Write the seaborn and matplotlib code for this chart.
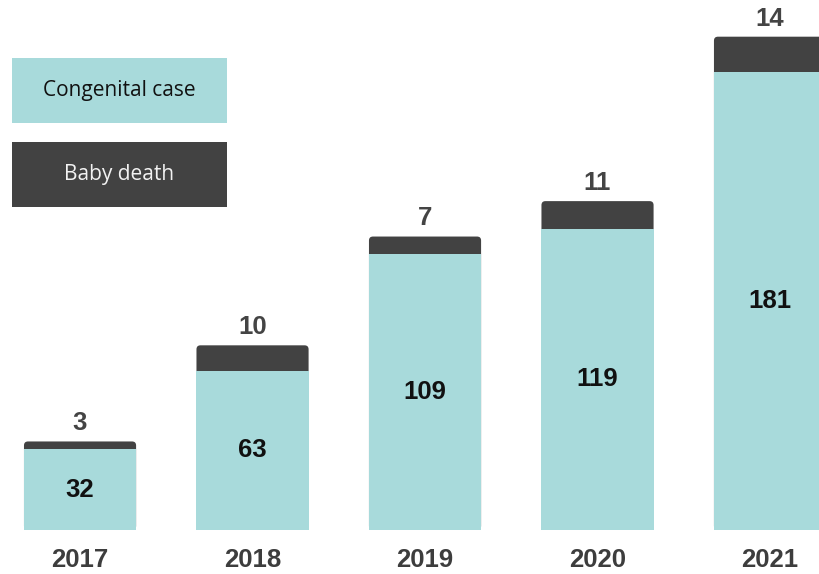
import numpy as np
import pandas as pd
import seaborn as sns
import matplotlib.pyplot as plt
from matplotlib.patches import Rectangle, FancyBboxPatch

years = ['2017', '2018', '2019', '2020', '2021']
congenital = [32, 63, 109, 119, 181]
baby_death = [3, 10, 7, 11, 14]

TEAL = '#a8dadb'
DARK = '#424242'

df = pd.DataFrame({'year': years, 'congenital': congenital, 'death': baby_death})
df['total'] = df['congenital'] + df['death']

sns.set_style('white')
plt.rcParams['font.family'] = ['Liberation Sans', 'DejaVu Sans']

fig = plt.figure(figsize=(8.19, 5.74), dpi=100)
# axes placed so the baseline sits ~44 px above the bottom edge
ax = fig.add_axes([0, 44 / 574, 1, 530 / 574])

# dark total first, teal congenital over it -> stacked look
sns.barplot(data=df, x='year', y='total', color=DARK, width=0.65,
            saturation=1, linewidth=0, ax=ax)
n_dark = len(ax.patches)
sns.barplot(data=df, x='year', y='congenital', color=TEAL, width=0.65,
            saturation=1, linewidth=0, ax=ax)

ax.set_xlim(-0.464, 4.284)
ax.set_ylim(0, 209.5)

# round the top corners of the dark segments (bottom ones hide under teal)
px_x = 1 / 172.5
px_y = 1 / 2.53
for p in ax.patches[:n_dark]:
    p.set_visible(False)
    rb = FancyBboxPatch((p.get_x(), p.get_y()), p.get_width(), p.get_height(),
                        boxstyle='round,pad=0,rounding_size=%f' % (4 * px_x),
                        mutation_aspect=px_y / px_x, facecolor=DARK,
                        edgecolor='none', zorder=p.get_zorder())
    ax.add_patch(rb)
for p in ax.patches[n_dark:2 * n_dark]:
    p.set_zorder(3)

sns.despine(ax=ax, left=True, bottom=True, top=True, right=True)
ax.set_yticks([])
ax.set_xlabel('')
ax.set_ylabel('')
ax.tick_params(axis='x', length=0, pad=13)
for lbl in ax.get_xticklabels():
    lbl.set_fontsize(18.5)
    lbl.set_fontweight('bold')
    lbl.set_color('#3d3d3d')

for i, row in df.iterrows():
    ax.text(i, row['congenital'] / 2, str(row['congenital']), ha='center', va='center',
            fontsize=18.5, fontweight='bold', color='#111111', zorder=5)
    ax.annotate(str(row['death']), xy=(i, row['total']), xytext=(0, 13),
                textcoords='offset points', ha='center', va='center',
                fontsize=18.5, fontweight='bold', color='#444444',
                annotation_clip=False)

# legend boxes in the top-left corner
W, H = 819, 574
for (y0, y1, color, label, tcolor) in [(58, 123, TEAL, 'Congenital case', '#111111'),
                                      (142, 207, DARK, 'Baby death', '#f2f2f2')]:
    fig.patches.append(Rectangle((12 / W, (H - y1) / H), 215 / W, (y1 - y0) / H,
                                 transform=fig.transFigure, facecolor=color,
                                 edgecolor='none'))
    fig.text(119.5 / W, (H - (y0 + y1) / 2) / H, label, ha='center', va='center',
             fontsize=15, color=tcolor, family=['Open Sans', 'DejaVu Sans'])

fig.savefig('out.png', dpi=100)
